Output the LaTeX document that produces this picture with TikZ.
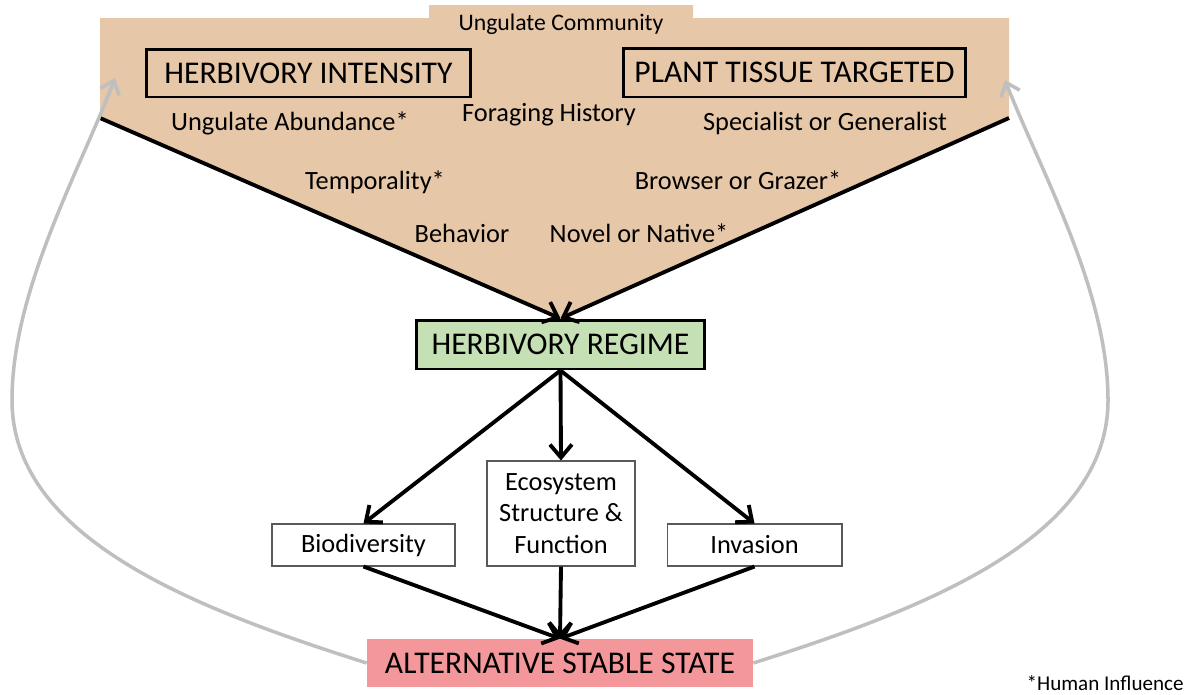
\documentclass[tikz,border=0pt]{standalone}
\usepackage{fontspec}
\setmainfont{Carlito}
\usetikzlibrary{positioning,arrows.meta}
\definecolor{ntan}{HTML}{E6C7A8}
\definecolor{ngreen}{HTML}{C5E0B4}
\definecolor{nred}{HTML}{F4979A}
\definecolor{ngray}{HTML}{BFBFBF}
\definecolor{nedge}{HTML}{595959}

\begin{document}
\begin{tikzpicture}[x=0.02cm,y=-0.02cm,
  bigbox/.style={draw=black,line width=1.7pt,inner sep=0pt,font=\fontsize{18}{21}\selectfont},
  smallbox/.style={draw=nedge,line width=0.6pt,fill=white,inner sep=0pt,align=center,font=\fontsize{15}{18}\selectfont},
  factor/.style={inner sep=0pt,font=\fontsize{15}{18}\selectfont},
  flow/.style={line width=2.2pt,-{Straight Barb[length=2.6mm,width=4.4mm]}},
  back/.style={ngray,line width=2pt,-{Straight Barb[length=2.4mm,width=4mm]}}]
 \useasboundingbox (0,0) rectangle (1189,694);
 % ungulate community panel
 \fill[ntan] (100,18) -- (429,18) -- (429,5) -- (693,5) -- (693,18) -- (1009,18)
   -- (1009,118) -- (560,318) -- (100,118) -- cycle;
 \coordinate (vl) at (100,118);
 \coordinate (vr) at (1009,118);
 \coordinate (lhead) at (115,78);
 \coordinate (rhead) at (1005,80);
 \node[factor,font=\fontsize{13.5}{16}\selectfont] (comm) at (561,24) {Ungulate Community};
 \node[bigbox,minimum width=6.5cm,minimum height=0.96cm] (intens) at (308.5,73) {HERBIVORY INTENSITY};
 \node[bigbox,minimum width=6.86cm,minimum height=0.98cm] (tissue) at (794.5,72.5) {PLANT TISSUE TARGETED};
 \node[factor] (abund) at (290,123) {Ungulate Abundance*};
 \node[factor] (forage) at (549,115) {Foraging History};
 \node[factor] (spec) at (825,123) {Specialist or Generalist};
 \node[factor] (tempo) at (375,182) {Temporality*};
 \node[factor] (browse) at (738,180) {Browser or Grazer*};
 \node[factor] (behav) at (462,233) {Behavior};
 \node[factor] (novel) at (639,233) {Novel or Native*};
 % regime and outcomes
 \node[bigbox,fill=ngreen,minimum width=5.78cm,minimum height=0.98cm] (regime) at (560.5,344.5) {HERBIVORY REGIME};
 \node[smallbox,minimum width=3.66cm,minimum height=0.84cm] (biodiv) at (363.5,545) {Biodiversity};
 \node[smallbox,minimum width=2.96cm,minimum height=2.1cm] (eco) at (561,513.5) {Ecosystem\\Structure \&\\Function};
 \node[smallbox,minimum width=3.5cm,minimum height=0.84cm] (invas) at (754.5,545) {Invasion};
 \node[fill=nred,inner sep=0pt,minimum width=7.72cm,minimum height=0.96cm,font=\fontsize{18}{21}\selectfont] (alt) at (560,663) {ALTERNATIVE STABLE STATE};
 \node[anchor=east,inner sep=0pt,font=\fontsize{12}{14}\selectfont] (human) at (1184,683) {*Human Influence};
 % arrows
 \draw[flow] (vl) -- (regime.north);
 \draw[flow] (vr) -- (regime.north);
 \foreach \n in {biodiv,eco,invas}{
  \draw[flow] (regime.south) -- (\n.north);
  \draw[flow] (\n.south) -- (alt.north);
 }
 \draw[back] (alt.west) .. controls (200,610) and (12,540) .. (12,400)
   .. controls (12,290) and (80,170) .. (lhead);
 \draw[back] (alt.east) .. controls (920,610) and (1108,540) .. (1108,400)
   .. controls (1108,290) and (1040,170) .. (rhead);
\end{tikzpicture}
\end{document}
